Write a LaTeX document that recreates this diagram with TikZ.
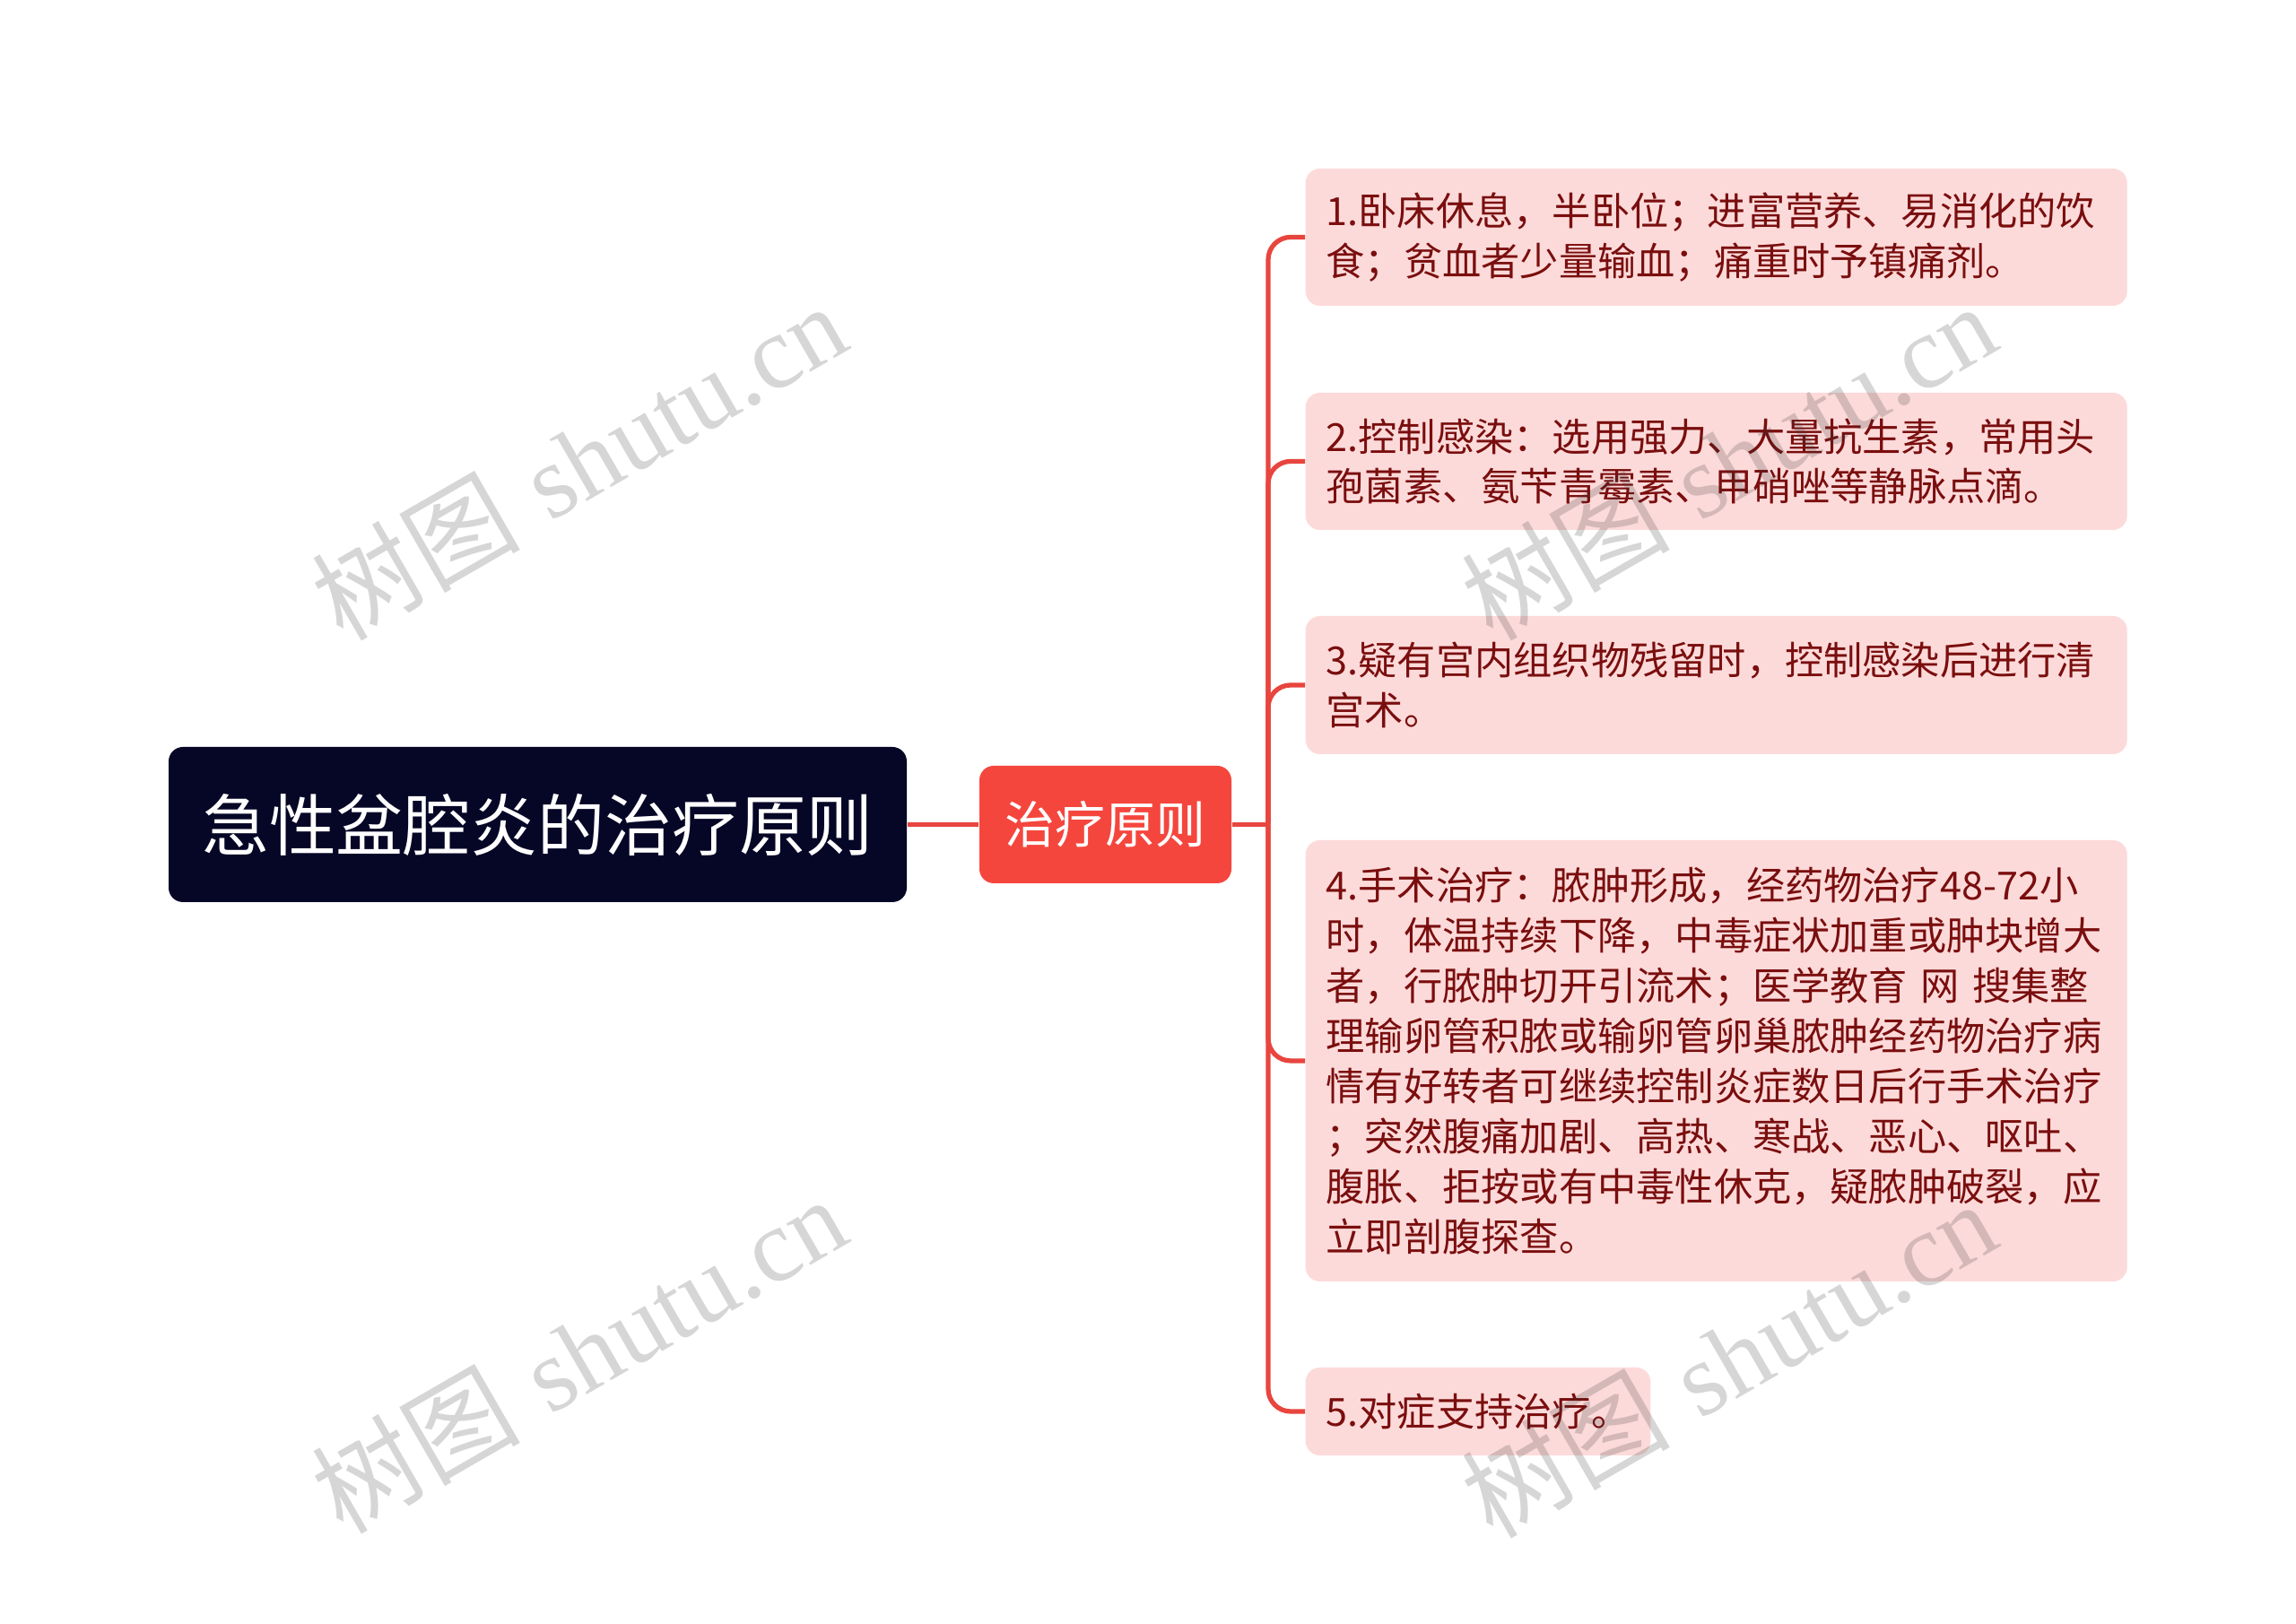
\documentclass[tikz,border=0pt]{standalone}
\usepackage{fontspec}
\usepackage{tikz}
\usetikzlibrary{positioning}

\newfontfamily\cjk{Noto Sans CJK SC}
\newfontfamily\wmserif{Liberation Serif}

\definecolor{rootbg}{HTML}{060627}
\definecolor{midbg}{HTML}{F5463E}
\definecolor{leafbg}{HTML}{FDDADA}
\definecolor{leaftxt}{HTML}{7A0E0E}
\definecolor{linkred}{HTML}{E8453F}

\begin{document}
\begin{tikzpicture}[node distance=6.33cm, on grid]
        \tikzset{box/.style={rectangle, rounded corners=0.16cm, inner sep=0pt}}
        \tikzset{topic/.style={box, fill=rootbg, text=white, minimum width=8.23cm, minimum height=1.73cm,
                font=\cjk\fontsize{21.3}{26}\selectfont}}
        \tikzset{branch/.style={box, fill=midbg, text=white, minimum width=2.81cm, minimum height=1.31cm,
                font=\cjk\fontsize{15.9}{19}\selectfont}}
        \tikzset{leaf/.style={box, fill=leafbg, text=leaftxt, anchor=west, align=left, inner xsep=0.23cm,
                font=\cjk\fontsize{12.3}{15.9}\selectfont}}
        \tikzset{wide/.style={leaf, text width=8.7cm}}
        \tikzset{link/.style={draw=linkred, line width=1.5pt, rounded corners=0.25cm}}
        \tikzset{elbow/.style={to path={|- (\tikztotarget)}}}
        \tikzset{stamp/.style={rotate=30, text=black!80, text opacity=0.2, inner sep=0pt,
                font=\fontsize{33}{38}\selectfont}}

        \useasboundingbox[fill=white] (0,0) rectangle (25.6,18.11);

        \node[topic] (root) at (5.995,8.915) {急性盆腔炎的治疗原则};
        \node[branch] (mid) [right=of root] {治疗原则};
        \coordinate (bus) at (14.14,8.915);

        \node[wide, minimum height=1.53cm] (l_1) at (14.55,15.465)
            {1.卧床休息，半卧位；进富营养、易消化的饮\\食；贫血者少量输血；痛重时予镇痛剂。};
        \node[wide, minimum height=1.53cm] (l_2) at (14.55,12.965)
            {2.控制感染：选用强力、大量抗生素，常用头\\孢菌素、氨苄青霉素、甲硝唑等静脉点滴。};
        \node[wide, minimum height=1.54cm] (l_3) at (14.55,10.47)
            {3.疑有宫内组织物残留时，控制感染后进行清\\宫术。};
        \node[wide, minimum height=4.92cm] (l_4) at (14.55,6.28)
            {4.手术治疗：脓肿形成，经药物治疗48-72小\\
             时，体温持续下降，中毒症状加重或肿块增大\\
             者，行脓肿切开引流术；医学教育 网 搜集整\\
             理输卵管积脓或输卵管卵巢脓肿经药物治疗病\\
             情有好转者可继续控制炎症数日后行手术治疗\\
             ；突然腹痛加剧、高热、寒战、恶心、呕吐、\\
             腹胀、拒按或有中毒性休克，疑脓肿破裂，应\\
             立即剖腹探查。};
        \node[leaf, minimum height=0.98cm] (l_5) at (14.55,2.37) {5.对症支持治疗。};

        \path[link]
        (root) edge (mid)
        (mid) edge (bus)
        (bus) edge[elbow] (l_1)
        (bus) edge[elbow] (l_2)
        (bus) edge[elbow] (l_3)
        (bus) edge[elbow] (l_4)
        (bus) edge[elbow] (l_5);

        % watermarks
        \foreach \px/\py [count=\i] in {6.45/12.97, 19.27/12.97, 6.45/3.01, 19.27/2.96}
            \node[stamp] (wm_\i) at (\px,\py) {{\cjk 树图} {\wmserif shutu.cn}};
    \end{tikzpicture}
\end{document}
